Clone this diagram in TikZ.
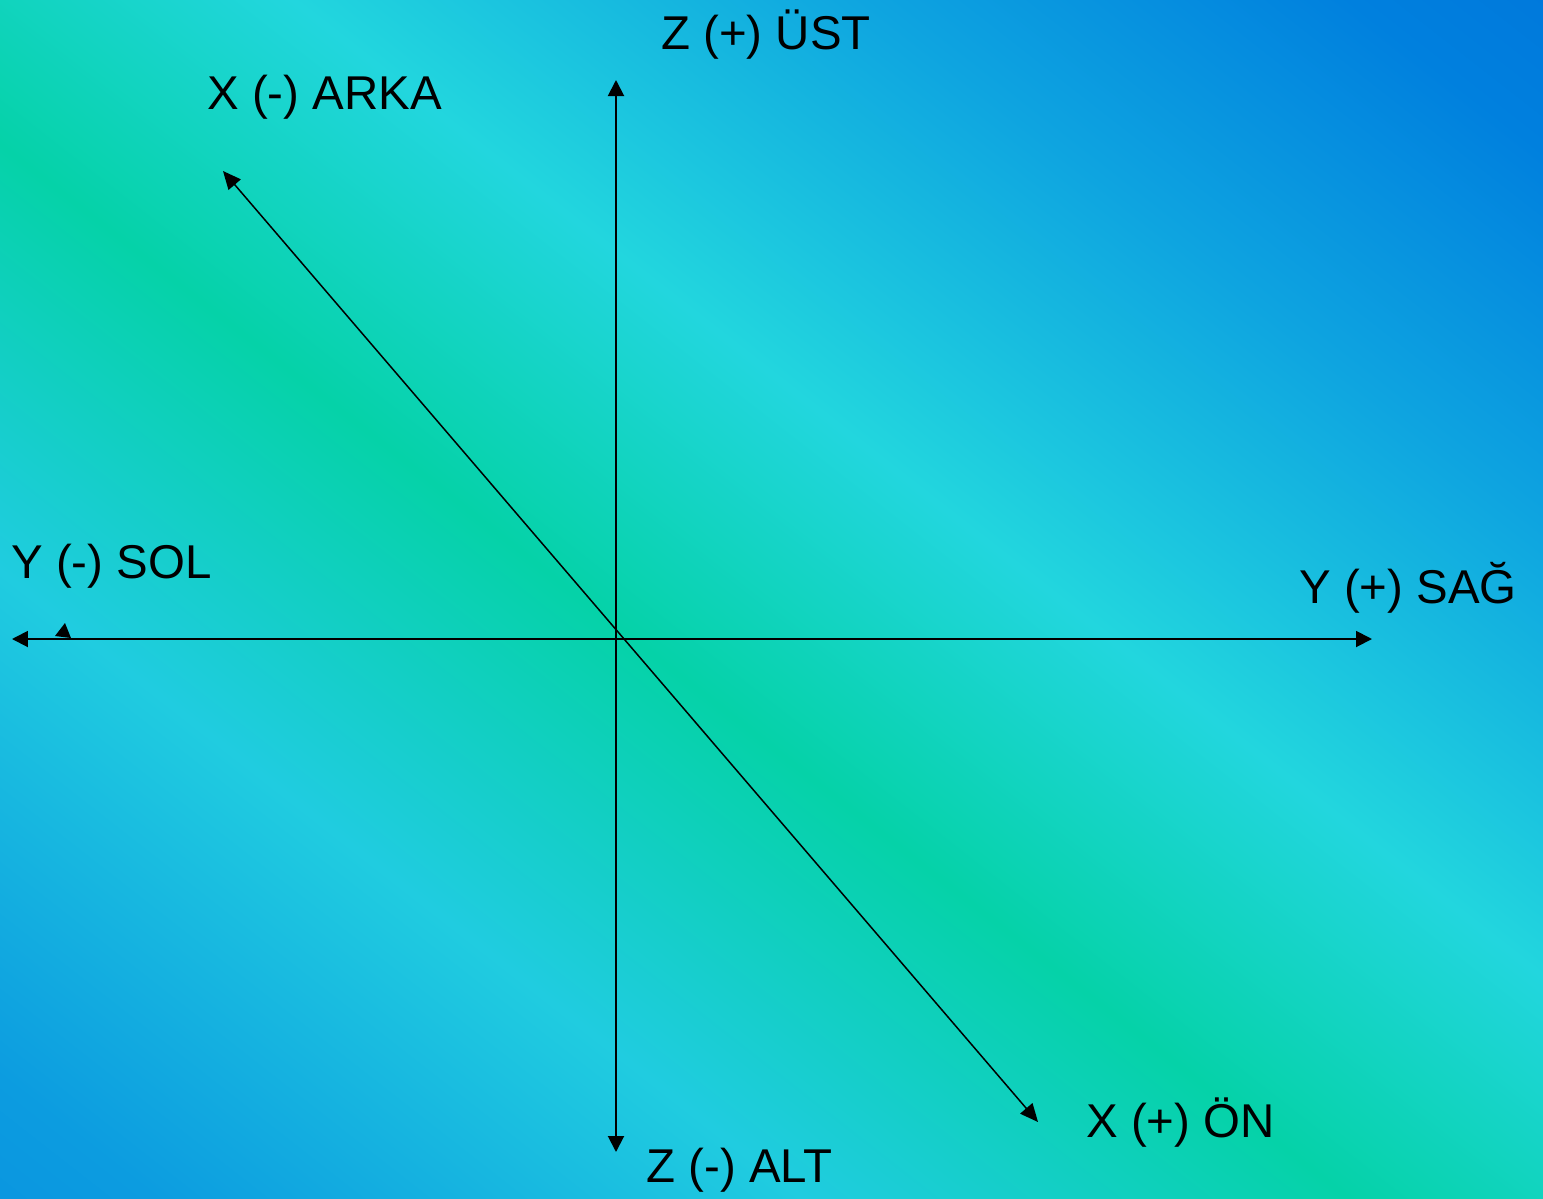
\documentclass[tikz,border=0pt]{standalone}
\usepackage{fontspec}
\setmainfont{Liberation Sans}
\usetikzlibrary{arrows.meta}
\definecolor{bgA}{HTML}{0890E0}
\definecolor{bgB}{HTML}{0C9CE0}
\definecolor{bgC}{HTML}{20CCE0}
\definecolor{bgD}{HTML}{05D2A8}
\definecolor{bgE}{HTML}{22D6DE}
\definecolor{bgF}{HTML}{0EA4E0}
\definecolor{bgG}{HTML}{0080DE}
\definecolor{bgH}{HTML}{0074DA}
\pgfdeclareverticalshading{bgshade}{100bp}{color(0bp)=(bgA); color(25bp)=(bgA); color(30bp)=(bgB); color(39.5bp)=(bgC); color(47.5bp)=(bgD); color(54.5bp)=(bgE); color(63bp)=(bgF); color(70bp)=(bgG); color(75bp)=(bgH); color(100bp)=(bgH)}
\tikzset{
  axis/.style={line width=1.1pt, {Triangle[length=0.32cm,width=0.32cm]}-{Triangle[length=0.32cm,width=0.32cm]}},
  diag/.style={line width=0.85pt, {Triangle[length=0.36cm,width=0.32cm]}-{Triangle[length=0.36cm,width=0.32cm]}},
  lbl/.style={anchor=base west, inner sep=0pt, font=\fontsize{27}{32}\selectfont}
}
\begin{document}
\begin{tikzpicture}[x={(0.02cm,0)}, y={(0,-0.02cm)}]
\useasboundingbox (0,0) rectangle (1543,1198);
\begin{scope}
  \clip (0,0) rectangle (1543,1198);
  \fill[bgD] (0,0) rectangle (1543,1198);
  \begin{scope}[transform canvas={shift={(0cm,-2.76cm)}, rotate=-38}]
    \shade[shading=bgshade] (-300,-1150) rectangle (2100,950);
  \end{scope}
\end{scope}
% axis end points
\coordinate (zt) at (616,80);
\coordinate (zb) at (616,1152);
\coordinate (yl) at (12,639);
\coordinate (yr) at (1372,639);
\coordinate (xb) at (223,171);
\coordinate (xf) at (1038,1122);
\draw[axis] (zb) -- (zt);
\draw[axis] (yl) -- (yr);
\draw[diag] (xb) -- (xf);
% small stray arrowhead
\coordinate (s1) at (55,636);
\coordinate (s2) at (65,623);
\coordinate (s3) at (71,638);
\fill (s1) -- (s2) -- (s3) -- cycle;
% labels
\node[lbl] (lzt) at (661,49) {Z (+) ÜST};
\node[lbl] (lxb) at (207,109) {X (-) ARKA};
\node[lbl] (lyl) at (11,578) {Y (-) SOL};
\node[lbl] (lyr) at (1299,603) {Y (+) SAĞ};
\node[lbl] (lxf) at (1086,1137) {X (+) ÖN};
\node[lbl] (lzb) at (646,1182) {Z (-) ALT};
\end{tikzpicture}
\end{document}
